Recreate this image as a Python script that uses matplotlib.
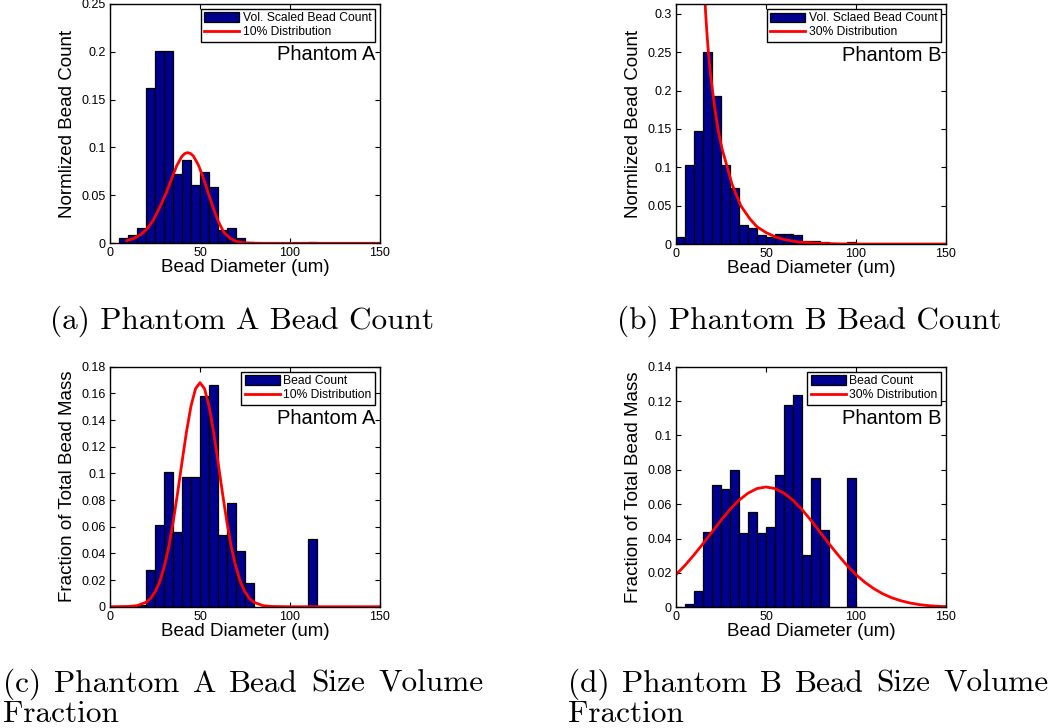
import numpy as np
import matplotlib.pyplot as plt
from matplotlib.ticker import FormatStrFormatter

plt.rcParams['font.family'] = ['Liberation Sans', 'DejaVu Sans']

# ---- data ----
# (a) Phantom A, volume scaled bead count
a_centers = [7.5, 12.5, 17.5, 22.5, 27.5, 32.5, 37.5, 42.5, 47.5, 52.5, 57.5,
             62.5, 67.5, 72.5, 77.5, 112.5]
a_counts = [0.006, 0.009, 0.016, 0.162, 0.201, 0.201, 0.072, 0.087, 0.061, 0.0745,
            0.059, 0.014, 0.016, 0.006, 0.001, 0.001]
a_fit_x = [9.3, 13, 16.7, 20.4, 24.1, 27.8, 31.5, 34.3, 37, 39.8, 41.4, 43, 44.6,
           46.3, 49.1, 51.9, 54.6, 57.4, 60.2, 63, 66.7, 70.4, 76, 85, 150]
a_fit_y = [0.0028, 0.0049, 0.0087, 0.0146, 0.0243, 0.0383, 0.0539, 0.0678, 0.0807,
           0.0904, 0.0935, 0.0946, 0.0938, 0.0911, 0.0817, 0.0678, 0.0522, 0.0365,
           0.0226, 0.0122, 0.0052, 0.0017, 0.0003, 0, 0]

# (b) Phantom B, volume scaled bead count
b_centers = [2.5, 7.5, 12.5, 17.5, 22.5, 27.5, 32.5, 37.5, 42.5, 47.5, 52.5,
             57.5, 62.5, 67.5, 72.5, 77.5, 82.5, 87.5, 97.5]
b_counts = [0.0096, 0.103, 0.147, 0.251, 0.193, 0.103, 0.0735, 0.025, 0.021, 0.012,
            0.009, 0.013, 0.013, 0.012, 0.004, 0.004, 0.002, 0.001, 0.002]
b_fit_x = [15.6, 16.5, 17.2, 18.0, 19.0, 20.3, 21.7, 23.3, 25.5, 28.5, 31, 33, 36,
           41, 45, 50, 55, 60, 65, 70, 80, 90, 100, 150]
b_fit_y = [0.34, 0.30, 0.275, 0.25, 0.225, 0.20, 0.175, 0.15, 0.125, 0.10, 0.079,
           0.067, 0.05, 0.033, 0.0225, 0.015, 0.0095, 0.006, 0.0037, 0.0022, 0.0008,
           0.0002, 0, 0]

# (c) Phantom A, fraction of total bead mass
c_centers = [12.5, 17.5, 22.5, 27.5, 32.5, 37.5, 42.5, 47.5, 52.5, 57.5, 62.5,
             67.5, 72.5, 77.5, 112.5]
c_counts = [0.0003, 0.0012, 0.0275, 0.061, 0.1008, 0.056, 0.0975, 0.0975, 0.158,
            0.166, 0.054, 0.078, 0.042, 0.0175, 0.051]
c_fit_x = [0, 10, 15, 20, 22.5, 25, 27.5, 30, 32.5, 35, 37.5, 40, 42.5, 45, 47.5, 50,
           52.5, 55, 57.5, 60, 62.5, 65, 67.5, 70, 72.5, 75, 77.5, 80, 85, 90, 100, 150]
c_fit_y = [0, 0.0002, 0.0008, 0.0033, 0.0062, 0.0110, 0.0184, 0.0293, 0.0441, 0.0629,
           0.0849, 0.1086, 0.1314, 0.1506, 0.1635, 0.168, 0.1635, 0.1506, 0.1314,
           0.1086, 0.0849, 0.0629, 0.0441, 0.0293, 0.0184, 0.0110, 0.0062, 0.0033,
           0.0008, 0.0002, 0, 0]

# (d) Phantom B, fraction of total bead mass
d_centers = [7.5, 12.5, 17.5, 22.5, 27.5, 32.5, 37.5, 42.5, 47.5, 52.5, 57.5, 62.5,
             67.5, 72.5, 77.5, 82.5, 97.5]
d_counts = [0.002, 0.0095, 0.044, 0.071, 0.069, 0.080, 0.043, 0.0555, 0.0435, 0.047,
            0.077, 0.118, 0.1235, 0.0305, 0.075, 0.045, 0.075]
d_fit_x = [0, 5, 10, 15, 20, 25, 30, 35, 40, 45, 50, 55, 60, 65, 70, 75, 80, 85, 90,
           95, 100, 105, 110, 115, 120, 125, 130, 135, 140, 145, 150]
d_fit_y = [0.0190, 0.0244, 0.0305, 0.0370, 0.0438, 0.0506, 0.0569, 0.0623, 0.0664,
           0.0691, 0.0700, 0.0691, 0.0664, 0.0623, 0.0569, 0.0506, 0.0438, 0.0370,
           0.0305, 0.0244, 0.0190, 0.0145, 0.0108, 0.0078, 0.0055, 0.0038, 0.0025,
           0.0016, 0.0010, 0.0006, 0.0004]

bin_width = 5
x_ticks = [0, 50, 100, 150]
a_yticks = [0, 0.05, 0.1, 0.15, 0.2, 0.25]
b_yticks = [0, 0.05, 0.1, 0.15, 0.2, 0.25, 0.3]
c_yticks = [0, 0.02, 0.04, 0.06, 0.08, 0.1, 0.12, 0.14, 0.16, 0.18]
d_yticks = [0, 0.02, 0.04, 0.06, 0.08, 0.1, 0.12, 0.14]

bar_color = (0, 0, 0.5625)


def panel(ax, centers, counts, fx, fy, bar_lab, fit_lab, tag, ytop, yticks, ylab):
    bars = ax.bar(centers, counts, width=bin_width, color=bar_color, edgecolor='k',
                  linewidth=0.9)
    line, = ax.plot(fx, fy, color='r', lw=2)
    ax.set_xlim(0, 150)
    ax.set_ylim(0, ytop)
    ax.set_xticks(x_ticks)
    ax.set_yticks(yticks)
    ax.yaxis.set_major_formatter(FormatStrFormatter('%g'))
    ax.tick_params(direction='in', length=3.5, width=0.8, top=True, right=True,
                   labelsize=9, pad=3)
    for s in ax.spines.values():
        s.set_linewidth(1.0)
    ax.set_xlabel('Bead Diameter (um)', fontsize=13.5, labelpad=0)
    ax.set_ylabel(ylab, fontsize=13.5, labelpad=4)
    leg = ax.legend([bars, line], [bar_lab, fit_lab], loc='upper right',
                    fontsize=8.7, frameon=True, fancybox=False, edgecolor='k',
                    framealpha=1, borderpad=0.3, labelspacing=0.15,
                    handlelength=2.9, handleheight=0.8, handletextpad=0.3,
                    borderaxespad=0.4)
    leg.get_frame().set_linewidth(1.0)
    ax.text(0.982, 0.786, tag, transform=ax.transAxes, ha='right', va='center',
            fontsize=14.5)


fig = plt.figure(figsize=(10.5, 7.28), dpi=100)
ax_a = fig.add_axes([0.1048, 0.6658, 0.2571, 0.3291])
ax_b = fig.add_axes([0.6438, 0.6648, 0.2571, 0.3297])
ax_c = fig.add_axes([0.1048, 0.1666, 0.2571, 0.3297])
ax_d = fig.add_axes([0.6438, 0.1658, 0.2571, 0.3305])

panel(ax_a, a_centers, a_counts, a_fit_x, a_fit_y, 'Vol. Scaled Bead Count',
      '10% Distribution', 'Phantom A', 0.25, a_yticks, 'Normlized Bead Count')
panel(ax_b, b_centers, b_counts, b_fit_x, b_fit_y, 'Vol. Sclaed Bead Count',
      '30% Distribution', 'Phantom B', 0.313, b_yticks, 'Normlized Bead Count')
panel(ax_c, c_centers, c_counts, c_fit_x, c_fit_y, 'Bead Count',
      '10% Distribution', 'Phantom A', 0.18, c_yticks, 'Fraction of Total Bead Mass')
panel(ax_d, d_centers, d_counts, d_fit_x, d_fit_y, 'Bead Count',
      '30% Distribution', 'Phantom B', 0.14, d_yticks, 'Fraction of Total Bead Mass')

# captions, LaTeX style (the long ones are justified across the line)
cap = dict(family='cmr10', fontsize=22.5, va='baseline', ha='left')
renderer = fig.canvas.get_renderer()


def justified(words, x0, x1, y):
    texts = [fig.text(0, y, w, **cap) for w in words]
    widths = [t.get_window_extent(renderer).width for t in texts]
    gap = ((x1 - x0) - sum(widths)) / (len(words) - 1)
    x = x0
    for t, w in zip(texts, widths):
        t.set_x(x / 1050)
        x += w + gap


fig.text(50 / 1050, 1 - 329 / 728, '(a) Phantom A Bead Count', **cap)
fig.text(617 / 1050, 1 - 329 / 728, '(b) Phantom B Bead Count', **cap)
justified(['(c)', 'Phantom', 'A', 'Bead', 'Size', 'Volume'], 3, 483, 1 - 692 / 728)
justified(['(d)', 'Phantom', 'B', 'Bead', 'Size', 'Volume'], 568, 1048, 1 - 692 / 728)
fig.text(3 / 1050, 1 - 722 / 728, 'Fraction', **cap)
fig.text(568 / 1050, 1 - 722 / 728, 'Fraction', **cap)

fig.savefig('out.png', dpi=100)
